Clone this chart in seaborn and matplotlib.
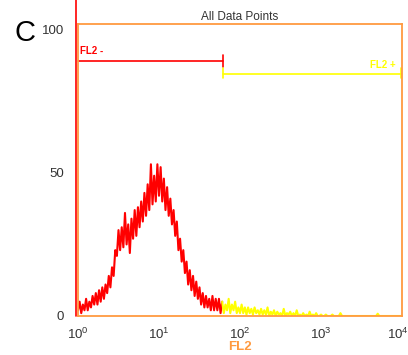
import numpy as np
import pandas as pd
import matplotlib
matplotlib.use("Agg")
import matplotlib.pyplot as plt
import matplotlib.transforms as mtransforms
import seaborn as sns
from matplotlib.ticker import FixedLocator, LogLocator, NullFormatter, FixedFormatter

# ---- data ----
# channel index -> FL2 = 10 ** (channel / 50)
red_channels = list(range(0, 90))
red_counts = [2, 5, 1, 4, 2, 6, 2, 5, 3, 7,
              4, 8, 4, 9, 5, 10, 6, 11, 8, 14,
              10, 17, 14, 23, 21, 30, 23, 31, 24, 36,
              25, 32, 22, 34, 27, 37, 28, 38, 31, 40,
              33, 43, 35, 46, 37, 53, 39, 49, 40, 53,
              42, 52, 40, 48, 37, 45, 35, 41, 32, 37,
              28, 33, 23, 27, 19, 23, 15, 19, 11, 16,
              9, 14, 7, 12, 6, 10, 4, 8, 3, 7,
              3, 6, 2, 7, 2, 6, 2, 6, 1, 5]
yellow_channels = list(range(89, 201))
yellow_counts = [5, 1, 4, 2, 6, 1, 4, 2, 5, 1,
                 3, 1, 4, 1, 3, 0.5, 3, 1, 2.5, 0.5,
                 3, 1, 2, 0.5, 2.5, 0.5, 2, 0.5, 3, 0,
                 1.5, 0.5, 2, 0, 1.5, 0.5, 1, 0, 2.5, 0,
                 1, 0.5, 1.5, 0, 1, 0, 2, 0, 0.5, 0,
                 1, 0, 0.5, 0, 1.5, 0, 0.5, 0, 1, 0,
                 0, 0.5, 0, 0, 0.5, 0, 0, 0, 0.5, 0,
                 0, 0, 0, 1, 0, 0, 0, 0, 0, 0,
                 0, 0, 0, 0, 0, 0, 0, 0, 0, 0,
                 0, 0, 0, 0, 0, 0, 0.8, 0, 0, 0,
                 0, 0, 0, 0, 0, 0, 0, 0, 0, 0,
                 0, 0]
gate_names = ["FL2 -", "FL2 +"]
gate_minus = (1, 62, 89)      # x from, x to, y level
gate_plus = (62, 10000, 84.6)
y_ticks = [0, 50, 100]
x_ticks = [1, 10, 100, 1000, 10000]
x_tick_labels = ["$10^0$", "$10^1$", "$10^2$", "$10^3$", "$10^4$"]

df = pd.DataFrame({
    "fl2": [10 ** (c / 50) for c in red_channels] + [10 ** (c / 50) for c in yellow_channels],
    "count": red_counts + yellow_counts,
    "gate": [gate_names[0]] * len(red_channels) + [gate_names[1]] * len(yellow_channels),
})

ORANGE = "#FF9A40"
RED = "#FF0000"
YELLOW = "#FFFF00"
TXT = "#333333"

sns.set_style("white")
plt.rcParams["font.family"] = ["Liberation Sans", "DejaVu Sans"]
plt.rcParams["mathtext.fontset"] = "custom"
plt.rcParams["mathtext.rm"] = "Liberation Sans"
plt.rcParams["mathtext.it"] = "Liberation Sans"

fig = plt.figure(figsize=(4.08, 3.55), dpi=100)
ax = fig.add_axes([78 / 408, 39 / 355, 324 / 408, 292 / 355])

sns.lineplot(data=df, x="fl2", y="count", hue="gate",
             palette={gate_names[0]: RED, gate_names[1]: YELLOW},
             estimator=None, sort=False, legend=False, linewidth=1.5, ax=ax)

ax.set_xscale("log")
ax.set_xlim(1, 10000)
ax.set_ylim(0, 102)

for s in ax.spines.values():
    s.set_color(ORANGE)
    s.set_linewidth(1.3)

ax.xaxis.set_major_locator(FixedLocator(x_ticks))
ax.xaxis.set_major_formatter(FixedFormatter(x_tick_labels))
ax.xaxis.set_minor_locator(LogLocator(base=10, subs=np.arange(2, 10)))
ax.xaxis.set_minor_formatter(NullFormatter())
ax.yaxis.set_major_locator(FixedLocator(y_ticks))
ax.yaxis.set_minor_locator(FixedLocator([25, 75]))

ax.tick_params(axis="both", which="both", direction="out", color=ORANGE,
               labelcolor=TXT, labelsize=9.5, width=1.2)
ax.tick_params(axis="x", which="major", length=6, pad=2)
ax.tick_params(axis="x", which="minor", length=4)
ax.tick_params(axis="y", which="major", length=7, pad=3)
ax.tick_params(axis="y", which="minor", length=7)

fig.canvas.draw()
last = ax.get_xticklabels()[-1]
last.set_transform(last.get_transform() + mtransforms.ScaledTranslation(-4 / 100, 0, fig.dpi_scale_trans))

ax.set_xlabel("FL2", color=ORANGE, fontsize=9.5, fontweight="bold", labelpad=-1)
ax.set_ylabel("")
ax.set_title("All Data Points", color=TXT, fontsize=8.5, pad=3)

# red marker line on the left, extending above the plot (slightly left of the spine)
shift = mtransforms.ScaledTranslation(-1.8 / 100, 0, fig.dpi_scale_trans)
ax.plot([1, 1], [0, 1.09], color=RED, linewidth=1.2, clip_on=False,
        transform=ax.get_xaxis_transform() + shift)

# gates
x0, x1, yl = gate_minus
ax.plot([x0, x1], [yl, yl], color=RED, linewidth=1.2, clip_on=False)
ax.plot([x1, x1], [yl - 2, yl + 2.2], color=RED, linewidth=1.2)
ax.text(x0 * 1.05, yl + 1.8, "FL2 -", color=RED, fontsize=7, fontweight="bold",
        ha="left", va="bottom")
x0, x1, yl = gate_plus
ax.plot([x0, x1], [yl, yl], color=YELLOW, linewidth=1.2)
ax.plot([x0, x0], [yl - 1.3, yl + 2.2], color=YELLOW, linewidth=1.2)
ax.plot([x1 * 0.985, x1 * 0.985], [yl - 1.3, yl + 2.0], color=YELLOW, linewidth=1.2)
ax.text(x1 * 0.84, yl + 1.4, "FL2 +", color=YELLOW, fontsize=7, fontweight="bold",
        ha="right", va="bottom")

fig.text(14 / 408, 1 - 33 / 355, "C", fontsize=21, color="black", ha="left", va="center")

fig.savefig("out.png", dpi=100)
